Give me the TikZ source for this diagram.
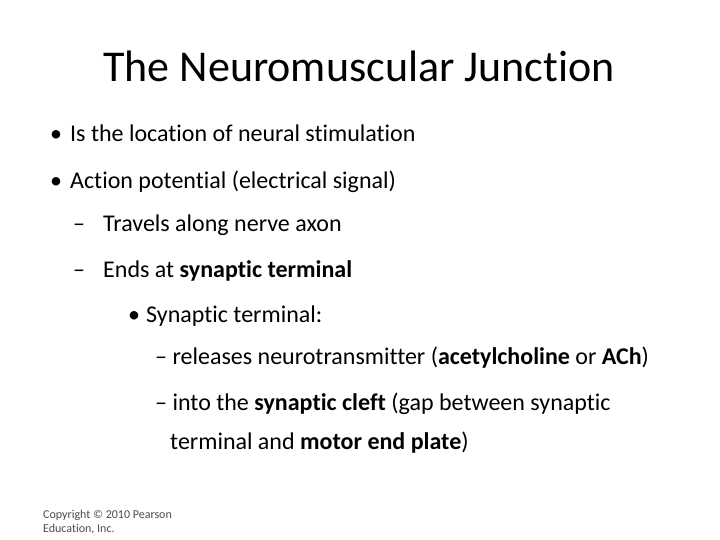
\documentclass[tikz,border=0pt]{standalone}
\usepackage{fontspec}
\setmainfont{Carlito}[RawFeature=-liga]
\begin{document}
\begin{tikzpicture}[x=1pt,y=1pt,
  txt/.style={anchor=base west,inner sep=0pt,font=\fontsize{24}{28}\selectfont},
  small/.style={anchor=base west,inner sep=0pt,font=\fontsize{12}{14}\selectfont,text=black!70}]
\useasboundingbox[fill=white] (0,0) rectangle (720,-540);
\node[anchor=base,inner sep=0pt,font=\fontsize{44}{52}\selectfont] (title) at (359,-82) {The Neuromuscular Junction};
\node[txt] (b1d) at (50,-142) {•};
\node[txt] (b1) at (70,-142) {Is the location of neural stimulation};
\node[txt] (b2d) at (50,-189) {•};
\node[txt] (b2) at (70,-189) {Action potential (electrical signal)};
\node[txt] (s1d) at (73,-232) {–};
\node[txt] (s1) at (103,-232) {Travels along nerve axon};
\node[txt] (s2d) at (73,-277) {–};
\node[txt] (s2) at (103,-277) {Ends at \textbf{synaptic terminal}};
\node[txt] (t1d) at (128,-322) {•};
\node[txt] (t1) at (146,-322) {Synaptic terminal:};
\node[txt] (u1) at (155,-364) {– releases neurotransmitter (\textbf{acetylcholine} or \textbf{ACh})};
\node[txt] (u2) at (155,-410) {– into the \textbf{synaptic cleft} (gap between synaptic};
\node[txt] (u3) at (170,-449) {terminal and \textbf{motor end plate})};
\node[small] (c1) at (43,-518) {Copyright © 2010 Pearson};
\node[small] (c2) at (43,-532) {Education, Inc.};
\end{tikzpicture}
\end{document}
